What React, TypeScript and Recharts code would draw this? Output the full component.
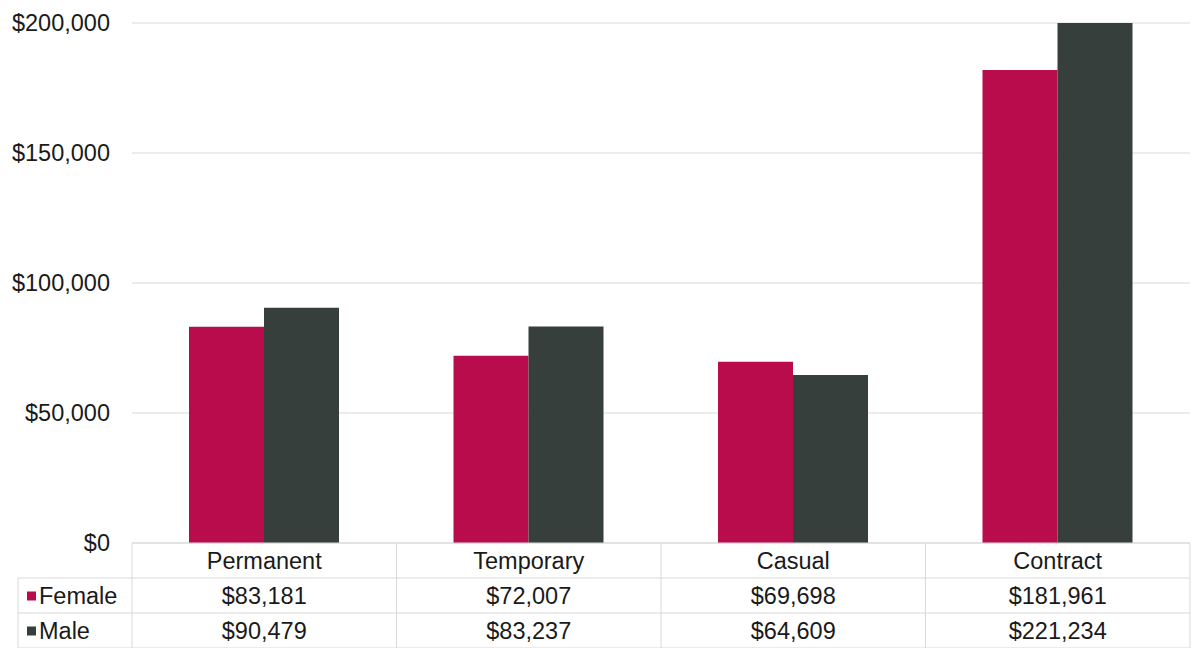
import { BarChart, Bar, XAxis, YAxis, CartesianGrid } from 'recharts';

const categories = ['Permanent', 'Temporary', 'Casual', 'Contract'];
const female = [83181, 72007, 69698, 181961];
const male = [90479, 83237, 64609, 221234];
const yTicks = [0, 50000, 100000, 150000, 200000];

const FEMALE_COLOR = '#b90c4c';
const MALE_COLOR = '#373f3c';
const LINE = '#d9d9d9';
const TEXT = '#1a1a1a';
const FONT = "'Liberation Sans', Arial, sans-serif";
const FS = 23.5;

const W = 1192;
const H = 648;
const Y_W = 132;
const RIGHT = 2;
const PLOT_BOTTOM = 543;
const ROW_H = 35;
const BAND = (W - Y_W - RIGHT) / categories.length;

const data = categories.map((name, i) => ({ name, Female: female[i], Male: male[i] }));

const money = (v: number) => '$' + v.toLocaleString('en-US');

// draws one column of the data table under each category, plus the legend column on the first
function TableTick(props: any) {
  const { x, index, payload } = props;
  const left = x - BAND / 2;
  const right = x + BAND / 2;
  const rows = [PLOT_BOTTOM, PLOT_BOTTOM + ROW_H, PLOT_BOTTOM + ROW_H * 2, PLOT_BOTTOM + ROW_H * 3];
  const txt = { fontFamily: FONT, fontSize: FS, fill: TEXT };
  return (
    <g>
      {rows.map((ry, k) => (
        <line key={k} x1={left} x2={right} y1={ry} y2={ry} stroke={LINE} />
      ))}
      <line x1={left} x2={left} y1={rows[0]} y2={rows[3]} stroke={LINE} />
      {index === categories.length - 1 && <line x1={right} x2={right} y1={rows[0]} y2={rows[3]} stroke={LINE} />}
      <text x={x} y={rows[0] + ROW_H / 2} textAnchor="middle" dominantBaseline="central" {...txt}>{payload.value}</text>
      <text x={x} y={rows[1] + ROW_H / 2} textAnchor="middle" dominantBaseline="central" {...txt}>{money(female[index])}</text>
      <text x={x} y={rows[2] + ROW_H / 2} textAnchor="middle" dominantBaseline="central" {...txt}>{money(male[index])}</text>
      {index === 0 && (
        <g>
          <line x1={18} x2={left} y1={rows[1]} y2={rows[1]} stroke={LINE} />
          <line x1={18} x2={left} y1={rows[2]} y2={rows[2]} stroke={LINE} />
          <line x1={18} x2={left} y1={rows[3]} y2={rows[3]} stroke={LINE} />
          <line x1={18} x2={18} y1={rows[1]} y2={rows[3]} stroke={LINE} />
          <rect x={27} y={rows[1] + ROW_H / 2 - 4} width={9} height={9} fill={FEMALE_COLOR} />
          <text x={39} y={rows[1] + ROW_H / 2} dominantBaseline="central" {...txt}>Female</text>
          <rect x={27} y={rows[2] + ROW_H / 2 - 4} width={9} height={9} fill={MALE_COLOR} />
          <text x={39} y={rows[2] + ROW_H / 2} dominantBaseline="central" {...txt}>Male</text>
        </g>
      )}
    </g>
  );
}

export default function App() {
  return (
    <div style={{ position: 'absolute', left: 0, top: 0, width: W, height: H, background: '#fff' }}>
      <BarChart
        width={W}
        height={H}
        data={data}
        margin={{ top: 23, right: RIGHT, left: 0, bottom: 0 }}
        barCategoryGap={57}
        barGap={0}
      >
        <CartesianGrid vertical={false} stroke={LINE} />
        <XAxis
          dataKey="name"
          height={H - PLOT_BOTTOM}
          axisLine={false}
          tickLine={false}
          interval={0}
          tick={<TableTick />}
        />
        <YAxis
          width={Y_W}
          domain={[0, 200000]}
          ticks={yTicks}
          allowDataOverflow
          axisLine={false}
          tickLine={false}
          tickMargin={16}
          tickFormatter={money}
          tick={{ fontFamily: FONT, fontSize: FS, fill: TEXT }}
        />
        <Bar dataKey="Female" fill={FEMALE_COLOR} isAnimationActive={false} />
        <Bar dataKey="Male" fill={MALE_COLOR} isAnimationActive={false} />
      </BarChart>
    </div>
  );
}
